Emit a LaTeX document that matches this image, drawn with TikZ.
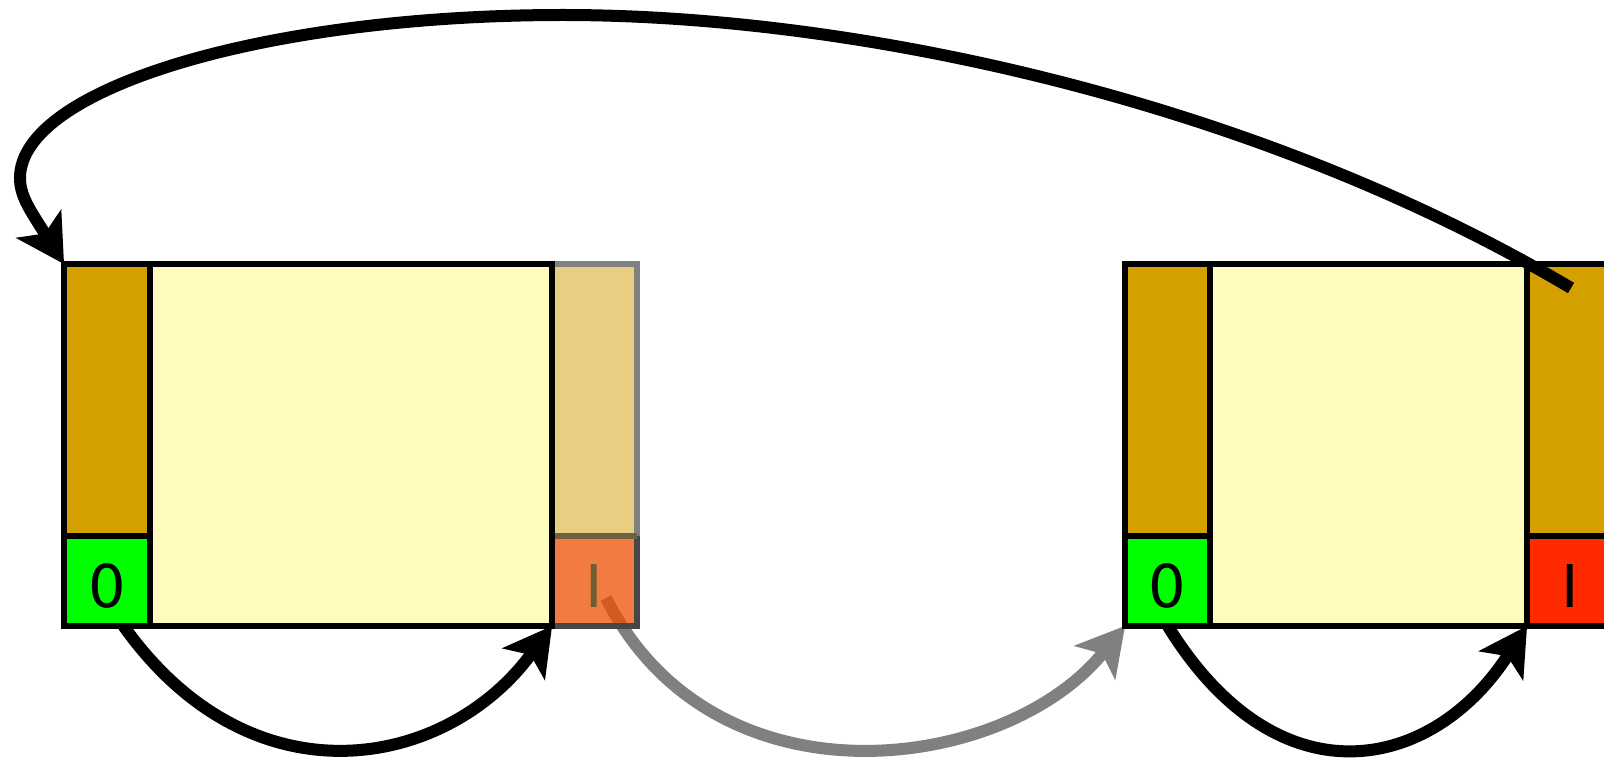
\documentclass[tikz,border=0pt]{standalone}
\usepackage{fontspec}
\newfontfamily\cellfont{DejaVu Sans}
\usetikzlibrary{arrows.meta}
\definecolor{cellyellow}{HTML}{FFFBBE}
\definecolor{cellbrown}{HTML}{D4A000}
\definecolor{cellgreen}{HTML}{00FF00}
\definecolor{cellred}{HTML}{FF2A00}
\definecolor{fadebrown}{HTML}{E8CE80}
\definecolor{fadeorange}{HTML}{ED4F00}
\definecolor{fadeolive}{HTML}{6E6040}
\definecolor{fadetext}{HTML}{6E5F32}
\begin{document}
\begin{tikzpicture}[x=1pt,y=-1pt,
  cell/.style={draw=black, line width=5.5pt, inner sep=0pt, outer sep=0pt, anchor=north west},
  tallcell/.style={minimum width=86pt, minimum height=272pt},
  lowcell/.style={minimum width=86pt, minimum height=90pt},
  digit/.style={inner sep=0pt, outer sep=0pt, font=\cellfont\fontsize{59}{60}\selectfont},
  arr/.style={line width=12pt, -{Stealth[length=48pt,width=54pt,inset=12pt,line width=0pt]}},
  grayarr/.style={arr, draw=black!50}
]
\useasboundingbox (0,0) rectangle (1604,759);
\clip (0,0) rectangle (1604,759);
\fill[white] (0,0) rectangle (1604,759);

% named free ends
\coordinate (arcstart) at (1571,288);
\coordinate (startL) at (118,618);
\coordinate (startF) at (606,598);
\coordinate (startR) at (1163,618);

% faded column geometry
\node[cell, draw=none, tallcell, minimum width=85pt] (fadeB) at (552,264) {};
\node[cell, draw=none, lowcell, minimum width=85pt] (fadeO) at (552,536) {};
\node[cell, draw=none, lowcell, minimum width=85pt] (greenR) at (1125,536) {};

% gray arrow, under the translucent column
\draw[grayarr] (startF) .. controls (714,812) and (1004,773) .. (greenR.south west);

% faded column
\fill[fadebrown] (fadeB.north west) rectangle (fadeB.south east);
\fill[fadeorange, fill opacity=0.75] (fadeO.north west) rectangle (fadeO.south east);
\draw[black!50, line width=5.5pt] (fadeB.south west) -- (fadeB.north west) -- (fadeB.north east) -- (fadeB.south east);
\draw[black!72, line width=5.5pt] (fadeO.north east) -- (fadeO.south east) -- (fadeO.south west);
\draw[fadeolive, line width=5.5pt] (fadeO.north west) -- (fadeO.north east);
\node[digit, text=fadetext] (oneF) at (594.5,586) {I};

% black lower arrows (start hidden under the green cells)
\coordinate (yLse) at (552,626);
\coordinate (rRsw) at (1527,626);
\draw[arr] (startL) .. controls (246,807) and (444,771) .. (yLse);
\draw[arr] (startR) .. controls (1273,805) and (1430,774) .. (rRsw);

% left block
\node[cell, fill=cellyellow, minimum width=402pt, minimum height=362pt] (yellowL) at (150,264) {};
\node[cell, fill=cellbrown, tallcell] (brownL) at (64,264) {};
\node[cell, fill=cellgreen, lowcell] (greenL) at (64,536) {};
\node[digit] (zeroL) at (107.5,586) {0};

% right block
\node[cell, fill=cellyellow, minimum width=317pt, minimum height=362pt] (yellowR) at (1210,264) {};
\node[cell, fill=cellbrown, tallcell, minimum width=85pt] (brownR) at (1125,264) {};
\node[cell, fill=cellgreen, lowcell, minimum width=85pt] (greenR2) at (1125,536) {};
\node[digit] (zeroR) at (1167.5,586) {0};
\node[cell, fill=cellbrown, tallcell, minimum width=85pt] (brownR2) at (1527,264) {};
\node[cell, fill=cellred, lowcell, minimum width=85pt] (redR) at (1527,536) {};
\node[digit] (oneR) at (1570.5,586) {I};

% top return arrow
\draw[arr] (arcstart) .. controls (1261,104) and (863,15) .. (563,15)
  .. controls (264,15) and (20,89) .. (20,178)
  .. controls (20,196) and (30,210) .. (brownL.north west);
\end{tikzpicture}
\end{document}
